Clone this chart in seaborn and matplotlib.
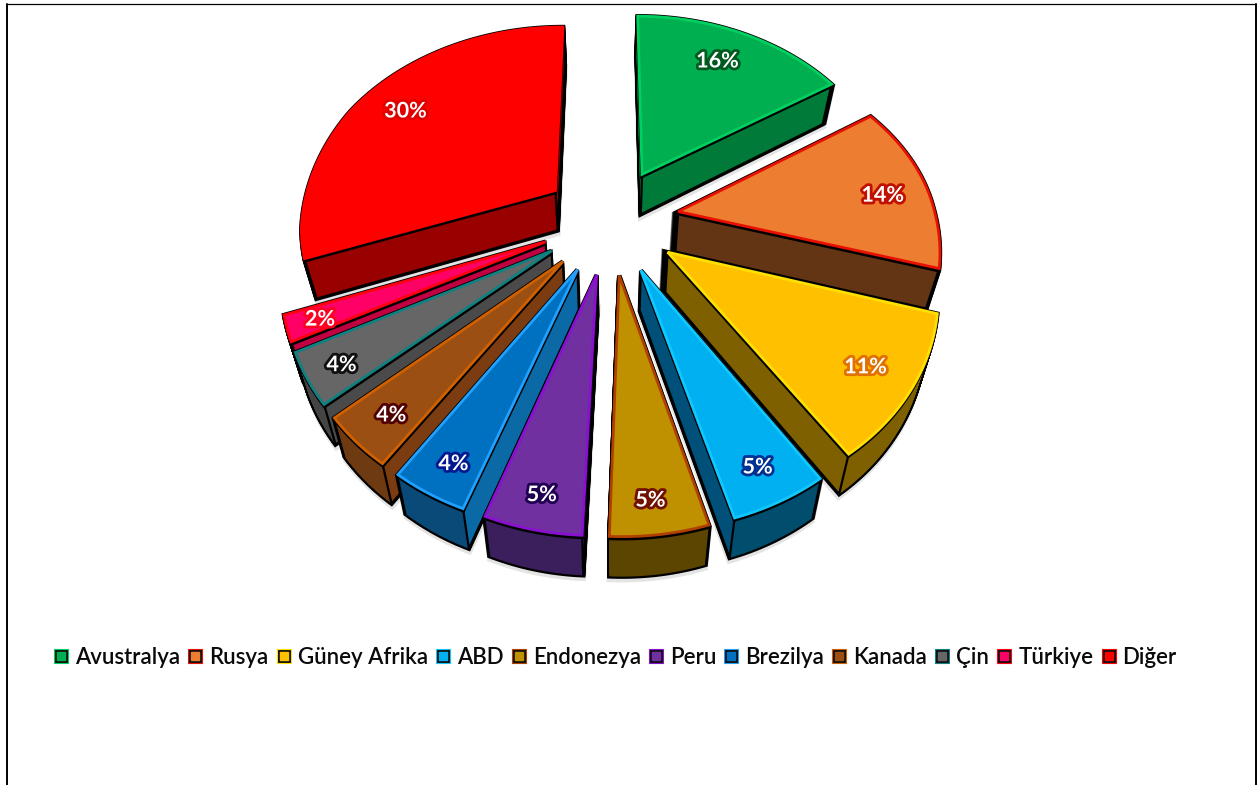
import numpy as np
import matplotlib
matplotlib.use("Agg")
import matplotlib.pyplot as plt
import matplotlib.patheffects as pe
from matplotlib.lines import Line2D
from matplotlib.legend_handler import HandlerTuple
from matplotlib.patches import Polygon
from matplotlib.transforms import Affine2D
import seaborn as sns

# Production shares by country
countries = ["Avustralya", "Rusya", "Güney Afrika", "ABD", "Endonezya", "Peru",
             "Brezilya", "Kanada", "Çin", "Türkiye", "Diğer"]
shares = [16, 14, 11, 5, 5, 5, 4, 4, 4, 2, 30]

# Slice styling
top_colors = ["#00B050", "#ED7D31", "#FFC000", "#00B0F0", "#BF9000", "#7030A0",
              "#0070C0", "#9C4F12", "#666666", "#FF0066", "#FF0000"]
edge_colors = ["#00D060", "#E81000", "#FFE000", "#10C8FF", "#B04000", "#8A10D0",
               "#20A0FF", "#D06000", "#108080", "#FF0010", "#FF0000"]
wall_colors = ["#007A38", "#643515", "#7F6000", "#004D6E", "#5B4500", "#3B1F5C",
               "#0A4A78", "#6E3A12", "#444444", "#C00040", "#990000"]
side_colors = ["#007A38", "#643515", "#7F6000", "#00507A", "#5B4500", "#3B1F5C",
               "#0B6AA5", "#7A3C10", "#4A4A4A", "#C00040", "#990000"]
glow_colors = ["#005A20", "#C01000", "#E07000", "#003090", "#701000", "#200050",
               "#001890", "#500000", "#101010", "#FF0020", "#E00000"]

# Label placement: distance along each slice, then a small pixel adjustment
label_radius = [0.80, 0.84, 0.87, 0.86, 0.86, 0.89, 0.88, 0.84, 0.86, 0.82, 0.78]
label_dx = [-7, -3, -11, 0, -3, 1, 4, -2, -3, -16, -7]
label_dy = [2, 8, -3, 3, 8, -2, 1, 5, 5, 7, 2]

WIDTH, HEIGHT, DPI = 1257, 785, 100
CENTER_X, CENTER_Y = 610.0, 220.0
RADIUS_X, RADIUS_Y = 256.0, 198.0
PERSPECTIVE = 0.163
SKEW_X, SKEW_Y = 9.0, 7.0
DEPTH = 40
TAPER = 0.04
EXPLODE = 0.27


def project(points, drop=0.0):
    """Map points of the unit pie plane onto the tilted view, in pixels."""
    points = np.atleast_2d(points)
    scale = 1.0 + PERSPECTIVE * points[:, 1]
    roll = SKEW_Y * points[:, 0] * np.clip(1.0 - points[:, 1] / 0.6, 0.0, 1.0)
    x = CENTER_X + RADIUS_X * points[:, 0] / scale + SKEW_X * np.maximum(0, -points[:, 1])
    y = CENTER_Y - RADIUS_Y * points[:, 1] / scale - roll + drop
    x = x - (x - CENTER_X) * TAPER * drop / DEPTH
    return np.column_stack([x, y])


sns.set_theme(style="white")
plt.rcParams["font.family"] = ["Lato", "DejaVu Sans"]

fig = plt.figure(figsize=(WIDTH / DPI, HEIGHT / DPI), dpi=DPI, facecolor="white")
ax = fig.add_axes([0, 0, 1, 1])

palette = sns.color_palette(top_colors)
wedges, _ = ax.pie(shares, startangle=90, counterclock=False, colors=palette,
                   explode=[EXPLODE] * len(shares))
ax.set_aspect("auto")
ax.set_xlim(0, WIDTH)
ax.set_ylim(HEIGHT, 0)
ax.axis("off")

# Outline of each slice in the pie plane, flattened so it can be projected
outlines = []
geometry = []
for wedge in wedges:
    poly = wedge.get_path().to_polygons(transform=Affine2D().scale(1000.0))[0] / 1000.0
    outlines.append(poly)
    mid = np.deg2rad((wedge.theta1 + wedge.theta2) / 2.0)
    geometry.append((wedge.center, wedge.r, wedge.theta1, wedge.theta2, mid))
    wedge.set_visible(False)

order = sorted(range(len(shares)), key=lambda i: -np.sin(geometry[i][4]))
drops = np.arange(0, DEPTH + 1, 1)

for i in order:
    z = 2 + order.index(i)
    outline = outlines[i]
    center, r, theta1, theta2, mid = geometry[i]

    # pale drop shadow around the extruded body
    ax.add_patch(Polygon(project(outline, DEPTH + 3), closed=True, fc="#E4E4E4",
                         ec="#E4E4E4", lw=4, zorder=z))
    # black silhouette, then the wall fill over it
    for d in drops:
        ax.add_patch(Polygon(project(outline, d), closed=True, fc="black",
                             ec="black", lw=3.2, zorder=z))
    for d in drops:
        ax.add_patch(Polygon(project(outline, d), closed=True, fc=wall_colors[i],
                             ec="none", zorder=z))

    # straight cut faces that turn towards the viewer
    tip = np.array(center)
    for angle, visible in ((theta1, np.cos(np.deg2rad(theta1)) > 0),
                           (theta2, np.cos(np.deg2rad(theta2)) < 0)):
        if not visible:
            continue
        rad = np.deg2rad(angle)
        corner = tip + r * np.array([np.cos(rad), np.sin(rad)])
        face = np.vstack([project(tip), project(corner),
                          project(corner, DEPTH), project(tip, DEPTH)])
        ax.add_patch(Polygon(face, closed=True, fc=side_colors[i], ec="black",
                             lw=1.6, zorder=z))

    # top surface: black seam shifted down, coloured rim on top
    ax.add_patch(Polygon(project(outline, 2.0), closed=True, fc="black", ec="black",
                         lw=2.6, zorder=z))
    ax.add_patch(Polygon(project(outline), closed=True, fc=palette[i],
                         ec=edge_colors[i], lw=2.0, joinstyle="miter", zorder=z))

    # percentage label
    anchor = (EXPLODE + label_radius[i]) * np.array([np.cos(mid), np.sin(mid)])
    (lx, ly) = project(anchor)[0]
    ax.text(lx + label_dx[i], ly + label_dy[i], f"{shares[i]}%", ha="center",
            va="center", color="white", fontsize=15.5, fontweight="bold", zorder=40,
            path_effects=[pe.withStroke(linewidth=4, foreground=glow_colors[i])])

# Legend keys: dark square with a lighter core
handles = []
for i in range(len(countries)):
    outer = Line2D([], [], ls="none", marker="s", markersize=9.5, mfc="#101010",
                   mec=edge_colors[i], mew=0.8)
    inner = Line2D([], [], ls="none", marker="s", markersize=5.5,
                   mfc=palette[i], mec=palette[i])
    handles.append((outer, inner))
ax.legend(handles, countries, handler_map={tuple: HandlerTuple(ndivide=1, pad=0)},
          ncol=len(countries), frameon=False, loc="center",
          bbox_to_anchor=(614 / WIDTH, 1 - 657 / HEIGHT),
          prop={"size": 16, "weight": "semibold"},
          handlelength=0.9, handletextpad=0.18, columnspacing=0.23,
          labelcolor="#0A0A0A")

# Thin page frame, open at the bottom
ax.plot([6.5, 6.5], [785, 4], color="black", lw=1.4, zorder=50, clip_on=False)
ax.plot([6.5, 1255.5], [3.5, 3.5], color="black", lw=0.9, zorder=50, clip_on=False)
ax.plot([1255.5, 1255.5], [3.5, 785], color="black", lw=1.4, zorder=50, clip_on=False)

fig.savefig("out.png", dpi=DPI, facecolor="white")
